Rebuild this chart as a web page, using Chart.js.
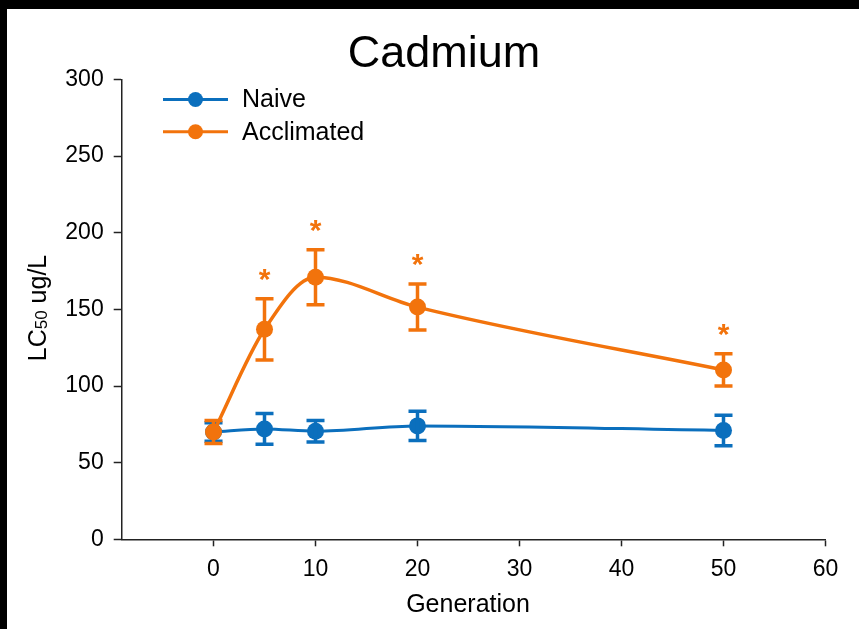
<!DOCTYPE html>
<html>
<head>
<meta charset="utf-8">
<title>Cadmium</title>
<script src="https://cdn.jsdelivr.net/npm/chart.js@4.4.1/dist/chart.umd.min.js"></script>
<style>
  html, body { margin: 0; padding: 0; background: #fff; }
  #frame { position: absolute; left: 0; top: 0; width: 859px; height: 629px; box-sizing: border-box;
           border-top: 9px solid #000; border-left: 7px solid #000; background: #fff; }
  #chart { display: block; }
</style>
</head>
<body>
<div id="frame"><canvas id="chart" width="852" height="620"></canvas></div>
<script>
const titleText = 'Cadmium'
const generations = [0, 5, 10, 20, 50]
const naive = [70, 72, 70.5, 74, 71]
const naiveErr = [6, 10, 7, 9.5, 10]
const acclimated = [70, 137, 171, 151.5, 110.5]
const acclimatedErr = [7.5, 20, 18, 15, 10.5]
const significant = [false, true, true, true, true]
const xTicks = [0, 10, 20, 30, 40, 50, 60]
const yTicks = [0, 50, 100, 150, 200, 250, 300]

const BLUE = '#0b6fbd'
const ORANGE = '#f2730c'
const FONT = '"Liberation Sans", Arial, sans-serif'

let zip = (xs, ys) => xs.map((x, i) => ({ x: x, y: ys[i] }))

// error bars + significance stars, drawn right after each dataset
const errorBars = {
  id: 'errorBars',
  afterDatasetDraw(chart, args) {
    const ds = chart.data.datasets[args.index]
    if (!ds.errors) return
    const ctx = chart.ctx
    const yScale = chart.scales.y
    ctx.save()
    ctx.strokeStyle = ds.borderColor
    ctx.fillStyle = ds.borderColor
    ctx.lineWidth = 3.5
    args.meta.data.forEach((pt, i) => {
      const v = ds.data[i].y, e = ds.errors[i]
      const top = yScale.getPixelForValue(v + e)
      const bot = yScale.getPixelForValue(v - e)
      ctx.beginPath()
      ctx.moveTo(pt.x, top); ctx.lineTo(pt.x, bot)
      ctx.moveTo(pt.x - 9, top); ctx.lineTo(pt.x + 9, top)
      ctx.moveTo(pt.x - 9, bot); ctx.lineTo(pt.x + 9, bot)
      ctx.stroke()
      if (ds.stars && ds.stars[i]) {
        ctx.font = 'bold 30px ' + FONT
        ctx.textAlign = 'center'
        ctx.textBaseline = 'alphabetic'
        const m = ctx.measureText('*')
        const cy = top - 24
        const base = cy + (m.actualBoundingBoxAscent - m.actualBoundingBoxDescent) / 2
        ctx.fillText('*', pt.x, base)
      }
    })
    ctx.restore()
  }
}

// title, axis titles and legend placed inside the plot like the original
const annotations = {
  id: 'annotations',
  afterDraw(chart) {
    const ctx = chart.ctx
    ctx.save()
    ctx.fillStyle = '#000'
    ctx.textBaseline = 'alphabetic'
    ctx.textAlign = 'center'
    ctx.font = '45px ' + FONT
    ctx.fillText(titleText, 437, 57.5)

    ctx.font = '25px ' + FONT
    ctx.fillText('Generation', 461, 603)

    // y title with subscript
    ctx.save()
    ctx.translate(38.5, 299)
    ctx.rotate(-Math.PI / 2)
    ctx.textAlign = 'left'
    ctx.font = '25px ' + FONT
    const w1 = ctx.measureText('LC').width
    const w3 = ctx.measureText(' ug/L').width
    ctx.font = '17px ' + FONT
    const w2 = ctx.measureText('50').width
    let x0 = -(w1 + w2 + w3) / 2
    ctx.font = '25px ' + FONT
    ctx.fillText('LC', x0, 0)
    ctx.font = '17px ' + FONT
    ctx.fillText('50', x0 + w1, 1)
    ctx.font = '25px ' + FONT
    ctx.fillText(' ug/L', x0 + w1 + w2, 0)
    ctx.restore()

    // legend
    const rows = [90.5, 122.7]
    chart.data.datasets.forEach((ds, i) => {
      const y = rows[i]
      ctx.strokeStyle = ds.borderColor
      ctx.fillStyle = ds.borderColor
      ctx.lineWidth = 3
      ctx.beginPath()
      ctx.moveTo(156, y); ctx.lineTo(221, y)
      ctx.stroke()
      ctx.beginPath()
      ctx.arc(188.5, y, 7.5, 0, Math.PI * 2)
      ctx.fill()
      ctx.fillStyle = '#000'
      ctx.font = '25px ' + FONT
      ctx.textAlign = 'left'
      ctx.textBaseline = 'middle'
      ctx.fillText(ds.label, 235, y + 1)
    })
    ctx.restore()
  }
}

const ctx = document.getElementById('chart')
const chart = new Chart(ctx, {
  type: 'line',
  data: {
    datasets: [
      {
        label: 'Naive',
        data: zip(generations, naive),
        errors: naiveErr,
        borderColor: BLUE,
        backgroundColor: BLUE,
        borderWidth: 3,
        pointRadius: 8.5,
        pointBorderWidth: 0,
        cubicInterpolationMode: 'monotone',
        order: 2
      }, {
        label: 'Acclimated',
        data: zip(generations, acclimated),
        errors: acclimatedErr,
        stars: significant,
        borderColor: ORANGE,
        backgroundColor: ORANGE,
        borderWidth: 3.5,
        pointRadius: 8.5,
        pointBorderWidth: 0,
        cubicInterpolationMode: 'monotone',
        order: 1
      }
    ]
  },
  options: {
    responsive: false,
    animation: false,
    devicePixelRatio: 1,
    layout: { padding: { top: 70.5, right: 33.5, left: 0, bottom: 0 } },
    plugins: {
      legend: { display: false },
      title: { display: false },
      tooltip: { enabled: false }
    },
    scales: {
      x: {
        type: 'linear',
        min: -9,
        max: 60,
        afterBuildTicks: (scale) => { scale.ticks = xTicks.map(v => ({ value: v })) },
        afterFit: (scale) => { scale.height = 89.7 },
        border: { display: true, color: '#222', width: 1.5 },
        grid: { drawOnChartArea: false, drawTicks: true, tickLength: 7, tickColor: '#222', tickWidth: 1.5 },
        ticks: { color: '#000', padding: 10, font: { family: FONT, size: 23 }, maxRotation: 0 }
      },
      y: {
        min: 0,
        max: 300,
        afterBuildTicks: (scale) => { scale.ticks = yTicks.map(v => ({ value: v })) },
        afterFit: (scale) => { scale.width = 114.7 },
        border: { display: true, color: '#222', width: 1.5 },
        grid: { drawOnChartArea: false, drawTicks: true, tickLength: 8, tickColor: '#222', tickWidth: 1.5 },
        ticks: { color: '#000', padding: 10, font: { family: FONT, size: 23 } }
      }
    }
  },
  plugins: [errorBars, annotations]
})
</script>
</body>
</html>
